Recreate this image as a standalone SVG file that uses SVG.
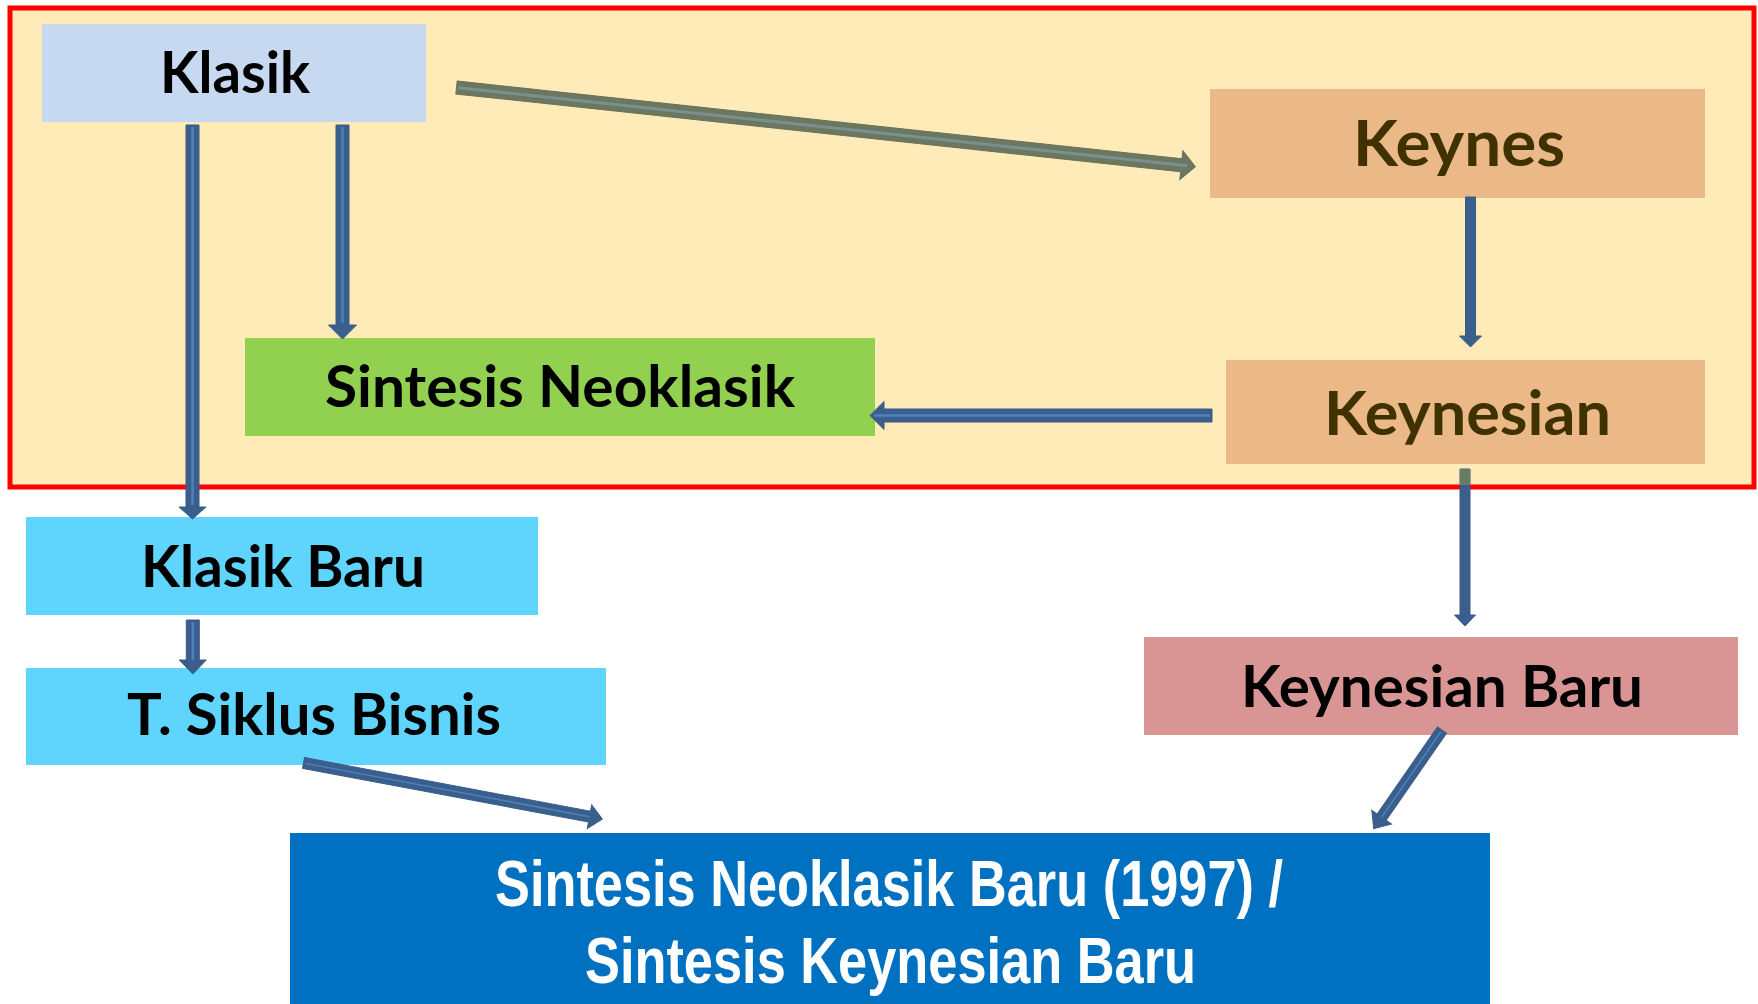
<svg xmlns="http://www.w3.org/2000/svg" width="1758" height="1004" viewBox="0 0 1758 1004">
<style>
.lbl{font-family:Lato,"Open Sans","DejaVu Sans",sans-serif;font-weight:700;font-size:58px;fill:#000}
.brn{fill:#3F3100}
.big{font-family:"Liberation Sans Narrow","Liberation Sans",Arial,sans-serif;font-weight:700;font-size:64px;fill:#fff}
.ab{fill:#3B5F8C;stroke:#385D8A;stroke-width:1}
.ag{fill:#6B7760;stroke:#667259;stroke-width:1}
.hl{stroke:#4F81BD;stroke-width:2.5;fill:none}
.hg{stroke:#7A9090;stroke-width:3;fill:none}
</style>
<rect width="1758" height="1004" fill="#fff"/>
<g id="frame">
<rect x="10" y="8" width="1744" height="479" fill="#FFEBB7" stroke="#FF0000" stroke-width="5"/>
</g>
<g id="klasik">
<rect x="42" y="24" width="384" height="98" fill="#C6D9F1"/>
<text class="lbl" x="160" y="93" textLength="150" lengthAdjust="spacingAndGlyphs">Klasik</text>
</g>
<g id="keynes">
<rect x="1210" y="89" width="495" height="109" fill="#EBB987"/>
<text class="lbl brn" x="1353" y="166" style="font-size:64px" textLength="212" lengthAdjust="spacingAndGlyphs">Keynes</text>
</g>
<g id="sintesis-neoklasik">
<rect x="245" y="338" width="630" height="98" fill="#92D050"/>
<text class="lbl" x="325" y="407" textLength="470" lengthAdjust="spacingAndGlyphs">Sintesis Neoklasik</text>
</g>
<g id="keynesian">
<rect x="1226" y="360" width="479" height="104" fill="#EBB987"/>
<text class="lbl brn" x="1324" y="435" style="font-size:62px" textLength="287" lengthAdjust="spacingAndGlyphs">Keynesian</text>
</g>
<g id="klasik-baru">
<rect x="26" y="517" width="512" height="98" fill="#5FD5FE"/>
<text class="lbl" x="141" y="587" textLength="284" lengthAdjust="spacingAndGlyphs">Klasik Baru</text>
</g>
<g id="t-siklus-bisnis">
<rect x="26" y="668" width="580" height="97" fill="#5FD5FE"/>
<text class="lbl" x="127" y="735" textLength="374" lengthAdjust="spacingAndGlyphs">T. Siklus Bisnis</text>
</g>
<g id="keynesian-baru">
<rect x="1144" y="637" width="594" height="98" fill="#D99594"/>
<text class="lbl" x="1241" y="707" textLength="402" lengthAdjust="spacingAndGlyphs">Keynesian Baru</text>
</g>
<g id="sintesis-baru">
<rect x="290" y="833" width="1200" height="171" fill="#0070C0"/>
<text class="big" x="495" y="906" textLength="788" lengthAdjust="spacingAndGlyphs">Sintesis Neoklasik Baru (1997) /</text>
<text class="big" x="585" y="983" textLength="611" lengthAdjust="spacingAndGlyphs">Sintesis Keynesian Baru</text>
</g>
<g id="connectors">
<g transform="translate(192.5,125) rotate(90)">
<polygon class="ab" points="0,-6.5 382,-6.5 382,-13.5 394,0 382,13.5 382,6.5 0,6.5"/>
<line class="hl" x1="2" y1="0" x2="380" y2="0"/>
</g>
<g transform="translate(342.5,125) rotate(90)">
<polygon class="ab" points="0,-6.5 200,-6.5 200,-14 214,0 200,14 200,6.5 0,6.5"/>
<line class="hl" x1="2" y1="0" x2="198" y2="0"/>
</g>
<g transform="translate(456.5,87.5) rotate(6.12)">
<polygon class="ag" points="0,-6.5 729,-6.5 729,-14.5 743,0 729,14.5 729,6.5 0,6.5"/>
<line class="hg" x1="2" y1="0" x2="735" y2="0"/>
</g>
<g transform="translate(1470.5,197) rotate(90)">
<polygon class="ab" points="0,-5 139,-5 139,-11 150,0 139,11 139,5 0,5"/>
</g>
<g transform="translate(1212,415.5) rotate(180)">
<polygon class="ab" points="0,-6.5 328,-6.5 328,-14 342,0 328,14 328,6.5 0,6.5"/>
<line class="hl" x1="2" y1="0" x2="338" y2="0"/>
</g>
<g transform="translate(1465,469) rotate(90)">
<polygon class="ab" points="0,-5 146,-5 146,-10.5 157,0 146,10.5 146,5 0,5"/>
</g>
<rect x="1460" y="469" width="10" height="16" fill="#6B7A62"/>
<g transform="translate(192.8,620) rotate(90)">
<polygon class="ab" points="0,-6.5 40,-6.5 40,-13.5 54,0 40,13.5 40,6.5 0,6.5"/>
<line class="hl" x1="2" y1="0" x2="40" y2="0"/>
</g>
<g transform="translate(303.5,763) rotate(10.63)">
<polygon class="ab" points="0,-5.5 291,-5.5 291,-12 304,0 291,12 291,5.5 0,5.5"/>
<line class="hl" x1="2" y1="0" x2="291" y2="0" style="stroke-width:1.5"/>
</g>
<g transform="translate(1442,730) rotate(124.68)">
<polygon class="ab" points="0,-5.5 106,-5.5 106,-12 120,0 106,12 106,5.5 0,5.5"/>
<line class="hl" x1="2" y1="0" x2="106" y2="0" style="stroke-width:1.5"/>
</g>
</g>
</svg>
